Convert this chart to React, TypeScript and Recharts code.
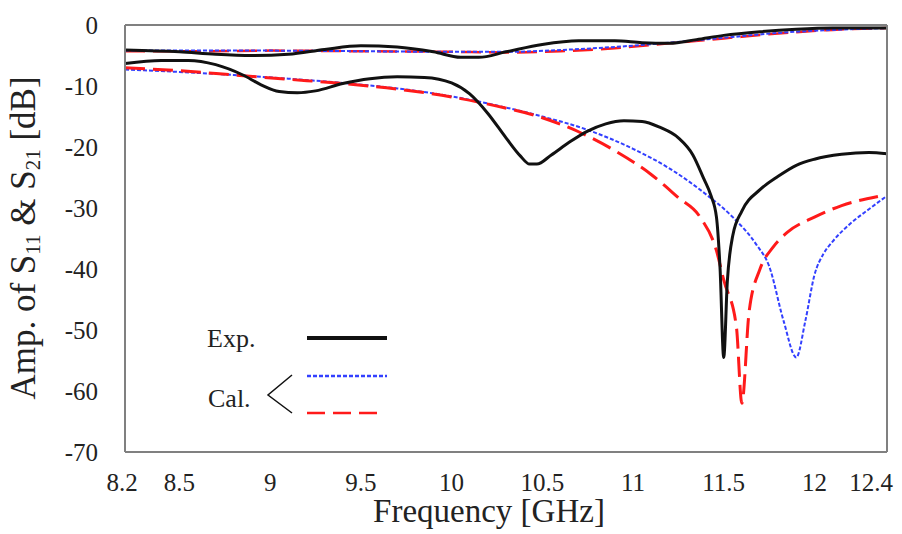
import React from "react";
import { LineChart, Line, XAxis, YAxis } from "recharts";

// frequency [GHz], amplitude [dB]
const expS21: [number, number][] = [
  [8.2, -4.1], [8.5, -4.4], [8.7, -4.8], [8.9, -5.0], [9.1, -4.8], [9.3, -4.0],
  [9.5, -3.4], [9.7, -3.6], [9.9, -4.4], [10.05, -5.3], [10.15, -5.3], [10.3, -4.4],
  [10.5, -3.2], [10.7, -2.6], [10.9, -2.6], [11.05, -2.9], [11.2, -3.0], [11.35, -2.4],
  [11.5, -1.7], [11.7, -1.1], [11.9, -0.7], [12.1, -0.5], [12.4, -0.5],
];

const expS11: [number, number][] = [
  [8.2, -6.3], [8.4, -5.8], [8.55, -5.8], [8.7, -6.5], [8.85, -8.2], [8.95, -9.8],
  [9.05, -10.9], [9.15, -11.1], [9.25, -10.8], [9.4, -9.6], [9.55, -8.8], [9.7, -8.5],
  [9.85, -8.6], [10.0, -9.5], [10.1, -11.3], [10.2, -14.5], [10.3, -18.5], [10.38, -21.5],
  [10.43, -22.8], [10.47, -22.8], [10.55, -21.3], [10.65, -19.2], [10.75, -17.4],
  [10.85, -16.2], [10.95, -15.7], [11.05, -15.8], [11.15, -16.8], [11.25, -18.5],
  [11.33, -21.3], [11.39, -25.2], [11.43, -28], [11.46, -31.5], [11.48, -40], [11.5, -54.5],
  [11.52, -42], [11.55, -34.5], [11.6, -30.5], [11.7, -27], [11.8, -24.8], [11.9, -23],
  [12.0, -22], [12.15, -21.2], [12.3, -20.9], [12.4, -21.1],
];

const calS11Blue: [number, number][] = [
  [8.2, -7.3], [8.5, -7.7], [8.8, -8.2], [9.1, -8.8], [9.4, -9.5], [9.7, -10.4],
  [10.0, -11.7], [10.25, -13.2], [10.5, -15.0], [10.75, -17.2], [11.0, -20.3],
  [11.2, -23.5], [11.4, -27.7], [11.55, -31.5], [11.68, -36], [11.75, -39.5],
  [11.83, -48.5], [11.9, -54.5], [11.95, -48.5], [12.0, -41], [12.05, -37.5],
  [12.1, -35.5], [12.2, -32.5], [12.3, -30.2], [12.4, -28],
];

const calS11Red: [number, number][] = [
  [8.2, -7.0], [8.5, -7.5], [8.8, -8.2], [9.1, -8.9], [9.4, -9.6], [9.7, -10.5],
  [10.0, -11.8], [10.25, -13.3], [10.5, -15.2], [10.7, -17.5], [10.9, -20.6],
  [11.1, -24.5], [11.25, -28.3], [11.37, -31.5], [11.46, -37], [11.5, -41.8],
  [11.57, -49.5], [11.6, -62], [11.64, -47], [11.7, -40], [11.77, -36.5],
  [11.85, -34], [12.0, -31.5], [12.15, -29.6], [12.35, -28.1],
];

const calS21Blue: [number, number][] = [
  [8.2, -4.2], [8.6, -4.2], [9.0, -4.2], [9.5, -4.3], [10.0, -4.4], [10.3, -4.4],
  [10.6, -4.1], [10.9, -3.6], [11.2, -2.9], [11.5, -2.1], [11.8, -1.3], [12.1, -0.8],
  [12.4, -0.5],
];

const calS21Red: [number, number][] = [
  [8.2, -4.3], [8.6, -4.3], [9.0, -4.2], [9.5, -4.3], [10.0, -4.4], [10.3, -4.5],
  [10.6, -4.3], [10.9, -3.8], [11.2, -3.0], [11.5, -2.2], [11.8, -1.4], [12.1, -0.8],
  [12.4, -0.5],
];

const freqTicks = [8.2, 8.5, 9, 9.5, 10, 10.5, 11, 11.5, 12, 12.4];
const innerFreqTicks = [8.5, 9, 9.5, 10, 10.5, 11, 11.5, 12];
const ampTicks = [0, -10, -20, -30, -40, -50, -60, -70];

const toPoints = (rows: [number, number][]) => rows.map(([f, a]) => ({ f, a }));

const FONT = '"Liberation Serif", "DejaVu Serif", serif';
const TEXT = "#222";
const FRAME = "#808080";

const FreqTick = (props: any) => {
  const { x, y, payload } = props;
  const v = payload.value;
  const shift = v === 12.4 ? -16 : v === 8.2 ? -3 : 0;
  return (
    <text
      x={x + shift}
      y={y + 39}
      textAnchor="middle"
      style={{ fontFamily: FONT, fontSize: 25, fill: TEXT }}
    >
      {v}
    </text>
  );
};

const AmpTick = (props: any) => {
  const { x, y, payload } = props;
  return (
    <text
      x={x - 27}
      y={y + 9}
      textAnchor="end"
      style={{ fontFamily: FONT, fontSize: 25, fill: TEXT }}
    >
      {payload.value}
    </text>
  );
};

const Legend = () => (
  <svg
    width={902}
    height={534}
    style={{ position: "absolute", left: 0, top: 0, pointerEvents: "none" }}
  >
    <g style={{ fontFamily: FONT }} fill={TEXT} fontSize={26}>
      <text x={207} y={347}>Exp.</text>
      <text x={208} y={407}>Cal.</text>
      {/* x axis title */}
      <text x={489} y={522} textAnchor="middle" fontSize={33}>Frequency [GHz]</text>
      {/* y axis title */}
      <text x={35} y={238} textAnchor="middle" fontSize={35} transform="rotate(-90 35 238)">
        Amp. of S<tspan fontSize={21} dy={5}>11</tspan>
        <tspan dy={-5}> &amp; S</tspan>
        <tspan fontSize={21} dy={5}>21</tspan>
        <tspan dy={-5}> [dB]</tspan>
      </text>
    </g>
    <line x1={307} y1={338} x2={387} y2={338} stroke="#111" strokeWidth={4} />
    <line x1={307} y1={376} x2={387} y2={376} stroke="#3340ff" strokeWidth={2.5} strokeDasharray="4 2" />
    <line x1={307} y1={413} x2={384} y2={413} stroke="#ff1a1a" strokeWidth={2.5} strokeDasharray="18 8" />
    <polyline points="292,375 268,395 292,413" fill="none" stroke="#111" strokeWidth={1.5} />
  </svg>
);

export default function App() {
  return (
    <div style={{ position: "absolute", left: 0, top: 0, width: 902, height: 534, background: "#fff" }}>
      <LineChart width={902} height={534} margin={{ top: 25, right: 15, left: 0, bottom: 0 }}>
        <XAxis
          xAxisId="x"
          type="number"
          dataKey="f"
          domain={[8.2, 12.4]}
          ticks={freqTicks}
          interval={0}
          allowDataOverflow
          height={82}
          tickLine={false}
          tickSize={0}
          tickMargin={0}
          axisLine={{ stroke: FRAME, strokeWidth: 2 }}
          tick={<FreqTick />}
        />
        <XAxis
          xAxisId="xb"
          type="number"
          dataKey="f"
          domain={[8.2, 12.4]}
          ticks={innerFreqTicks}
          interval={0}
          allowDataOverflow
          mirror
          axisLine={false}
          tickSize={6}
          tickLine={{ stroke: FRAME, strokeWidth: 1.5 }}
          tick={false}
        />
        <XAxis
          xAxisId="xt"
          orientation="top"
          type="number"
          dataKey="f"
          domain={[8.2, 12.4]}
          ticks={innerFreqTicks}
          interval={0}
          allowDataOverflow
          mirror
          axisLine={{ stroke: FRAME, strokeWidth: 2 }}
          tickSize={6}
          tickLine={{ stroke: FRAME, strokeWidth: 1.5 }}
          tick={false}
        />
        <YAxis
          yAxisId="y"
          type="number"
          domain={[-70, 0]}
          ticks={ampTicks}
          interval={0}
          allowDataOverflow
          width={125}
          tickLine={false}
          tickSize={0}
          tickMargin={0}
          axisLine={{ stroke: FRAME, strokeWidth: 2 }}
          tick={<AmpTick />}
        />
        <YAxis
          yAxisId="yl"
          type="number"
          domain={[-70, 0]}
          ticks={ampTicks}
          interval={0}
          allowDataOverflow
          mirror
          axisLine={false}
          tickSize={6}
          tickLine={{ stroke: FRAME, strokeWidth: 1.5 }}
          tick={false}
        />
        <YAxis
          yAxisId="yr"
          orientation="right"
          type="number"
          domain={[-70, 0]}
          ticks={ampTicks}
          interval={0}
          allowDataOverflow
          mirror
          axisLine={{ stroke: FRAME, strokeWidth: 2 }}
          tickSize={6}
          tickLine={{ stroke: FRAME, strokeWidth: 1.5 }}
          tick={false}
        />
        <Line
          xAxisId="x"
          yAxisId="y"
          data={toPoints(calS21Red)}
          dataKey="a"
          type="monotone"
          stroke="#ff1a1a"
          strokeWidth={2.5}
          strokeDasharray="20 8"
          dot={false}
          isAnimationActive={false}
        />
        <Line
          xAxisId="x"
          yAxisId="y"
          data={toPoints(calS21Blue)}
          dataKey="a"
          type="monotone"
          stroke="#3340ff"
          strokeWidth={2}
          strokeDasharray="4 2"
          dot={false}
          isAnimationActive={false}
        />
        <Line
          xAxisId="x"
          yAxisId="y"
          data={toPoints(calS11Blue)}
          dataKey="a"
          type="monotone"
          stroke="#3340ff"
          strokeWidth={2}
          strokeDasharray="4 2"
          dot={false}
          isAnimationActive={false}
        />
        <Line
          xAxisId="x"
          yAxisId="y"
          data={toPoints(calS11Red)}
          dataKey="a"
          type="monotone"
          stroke="#ff1a1a"
          strokeWidth={3}
          strokeDasharray="20 8"
          dot={false}
          isAnimationActive={false}
        />
        <Line
          xAxisId="x"
          yAxisId="y"
          data={toPoints(expS21)}
          dataKey="a"
          type="monotone"
          stroke="#111"
          strokeWidth={3}
          dot={false}
          isAnimationActive={false}
        />
        <Line
          xAxisId="x"
          yAxisId="y"
          data={toPoints(expS11)}
          dataKey="a"
          type="monotone"
          stroke="#111"
          strokeWidth={3}
          dot={false}
          isAnimationActive={false}
        />
      </LineChart>
      <Legend />
    </div>
  );
}
